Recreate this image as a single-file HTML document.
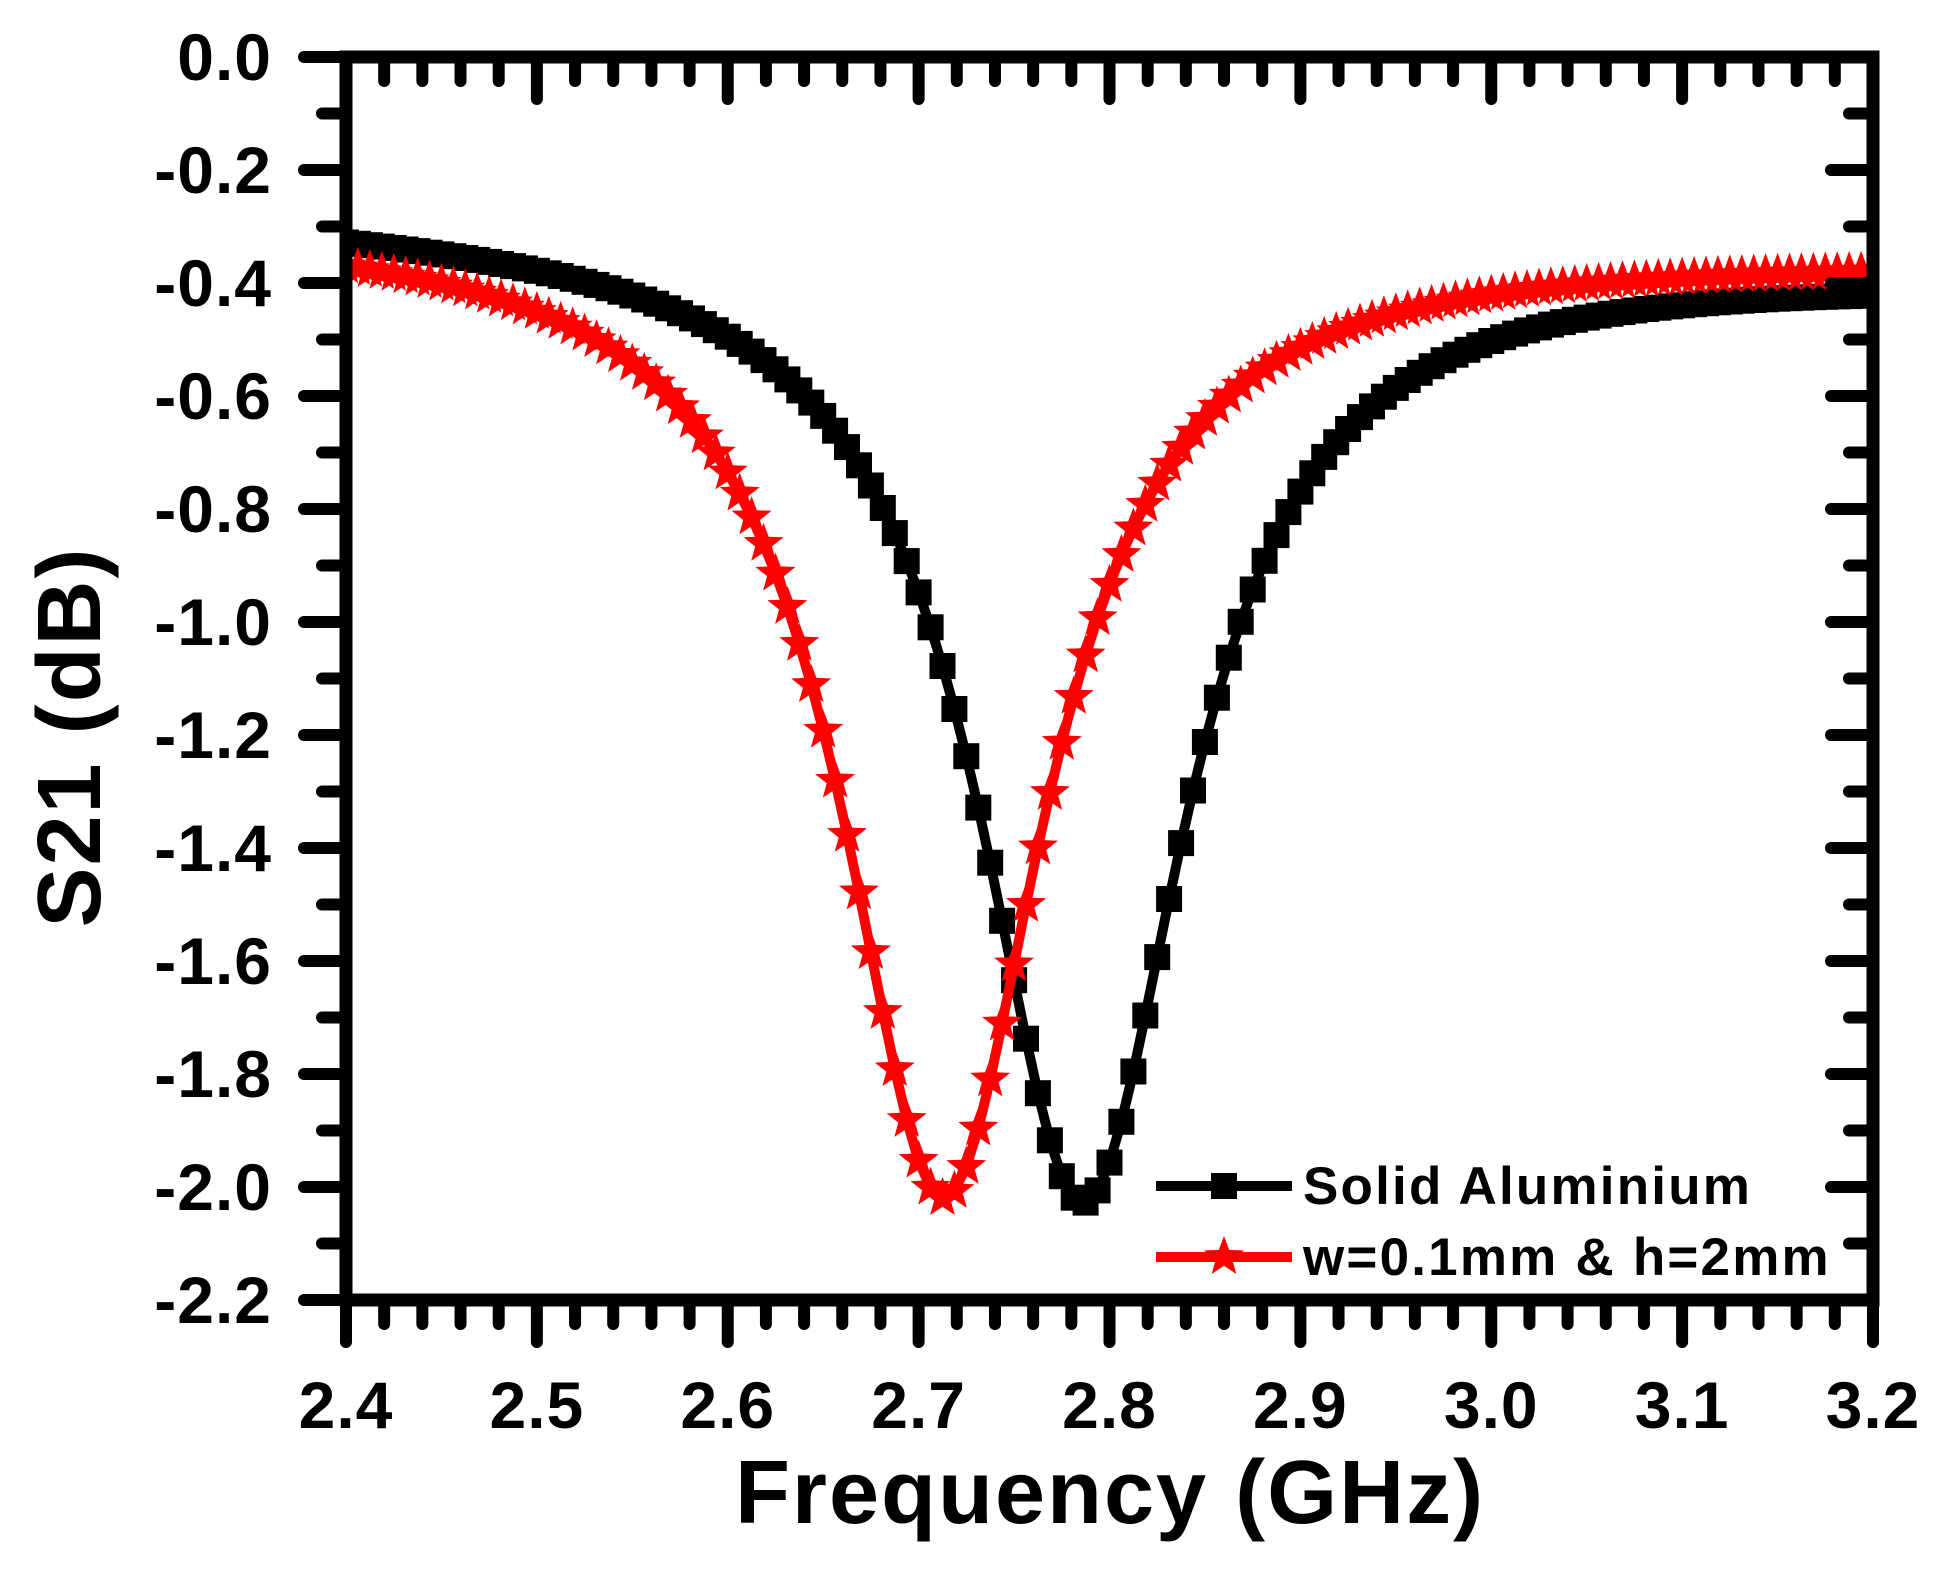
<!DOCTYPE html>
<html><head><meta charset="utf-8"><style>
html,body{margin:0;padding:0;background:#fff;}
svg{display:block;}
text{font-family:"Liberation Sans",Arial,sans-serif;font-weight:bold;}
</style></head><body>
<svg id="s" width="1942" height="1570" xmlns="http://www.w3.org/2000/svg"></svg>
<script>
const s=document.getElementById('s');
const L=346,R=1873,T=57,B=1300;
const X=f=>L+(f-2.4)/0.8*(R-L), Y=v=>T+(-v)/2.2*(B-T);
let h='<defs><clipPath id="c"><rect x="'+L+'" y="'+T+'" width="'+(R-L)+'" height="'+(B-T)+'"/></clipPath></defs><g clip-path="url(#c)">';
function lor(f,f0,w,A){const d=(f-f0)/w;return A/(1+d*d);}
function black(f){const base=-0.28-0.10*(f-2.4)/0.8;return base-lor(f,2.786,0.066,1.70);}
function red(f){const base=-0.30-0.05*(f-2.4)/0.8;return base-lor(f,2.713,0.065,1.70);}
function series(fn,col,mk){
  let pts=[];const n=128;
  for(let i=0;i<=n;i++){const f=2.4+0.8*i/n;pts.push([X(f),Y(fn(f))]);}
  h+=`<polyline points="${pts.map(p=>p[0].toFixed(1)+','+p[1].toFixed(1)).join(' ')}" fill="none" stroke="${col}" stroke-width="10" stroke-linejoin="round"/>`;
  pts.forEach(p=>h+=mk(p[0],p[1]));
}
const sq=(x,y)=>`<rect x="${(x-13).toFixed(1)}" y="${(y-13).toFixed(1)}" width="26" height="26" fill="#000"/>`;
function star(x,y,r=21,c='#f00'){let p=[];for(let i=0;i<10;i++){const a=-Math.PI/2+i*Math.PI/5;const rr=i%2?r*0.42:r;p.push((x+rr*Math.cos(a)).toFixed(1)+','+(y+rr*Math.sin(a)).toFixed(1));}return `<polygon points="${p.join(' ')}" fill="${c}"/>`;}
series(black,'#000',sq);
series(red,'#f00',(x,y)=>star(x,y));
h+='</g>';
h+=`<rect x="${L}" y="${T}" width="${R-L}" height="${B-T}" fill="none" stroke="#000" stroke-width="13"/>`;
const tk=(x1,y1,x2,y2)=>`<line x1="${x1}" y1="${y1}" x2="${x2}" y2="${y2}" stroke="#000" stroke-width="12" stroke-linecap="round"/>`;
for(let i=0;i<=40;i++){const x=X(2.4+i*0.02);const maj=i%5==0;const len=maj?42:24;
  if(i>0&&i<40){h+=tk(x,T,x,T+len);}
  h+=tk(x,B,x,B+len);
  if(maj)h+=`<text x="${x}" y="${B+128}" font-size="66" letter-spacing="1" text-anchor="middle">${(2.4+i*0.02).toFixed(1)}</text>`;}
for(let i=0;i<=22;i++){const y=Y(-i*0.1);const maj=i%2==0;const len=maj?42:24;
  h+=tk(L,y,L-len,y);
  if(i>0&&i<22)h+=tk(R,y,R-len,y);
  if(maj)h+=`<text x="272" y="${y+23}" font-size="66" letter-spacing="1" text-anchor="end">${i==0?'0.0':'-'+(i*0.1).toFixed(1)}</text>`;}
h+=`<text x="1110" y="1523" font-size="90" letter-spacing="2" text-anchor="middle">Frequency (GHz)</text>`;
h+=`<text transform="translate(100,737) rotate(-90)" font-size="90" letter-spacing="2" text-anchor="middle">S21 (dB)</text>`;
h+=`<line x1="1156" y1="1186" x2="1292" y2="1186" stroke="#000" stroke-width="10"/>`+sq(1224,1186);
h+=`<text x="1303" y="1204" font-size="53" letter-spacing="2.2">Solid Aluminium</text>`;
h+=`<line x1="1156" y1="1257" x2="1292" y2="1257" stroke="#f00" stroke-width="10"/>`+star(1224,1257);
h+=`<text x="1303" y="1275" font-size="53" letter-spacing="2.2">w=0.1mm &amp; h=2mm</text>`;
s.innerHTML=h;
</script>
</body></html>
